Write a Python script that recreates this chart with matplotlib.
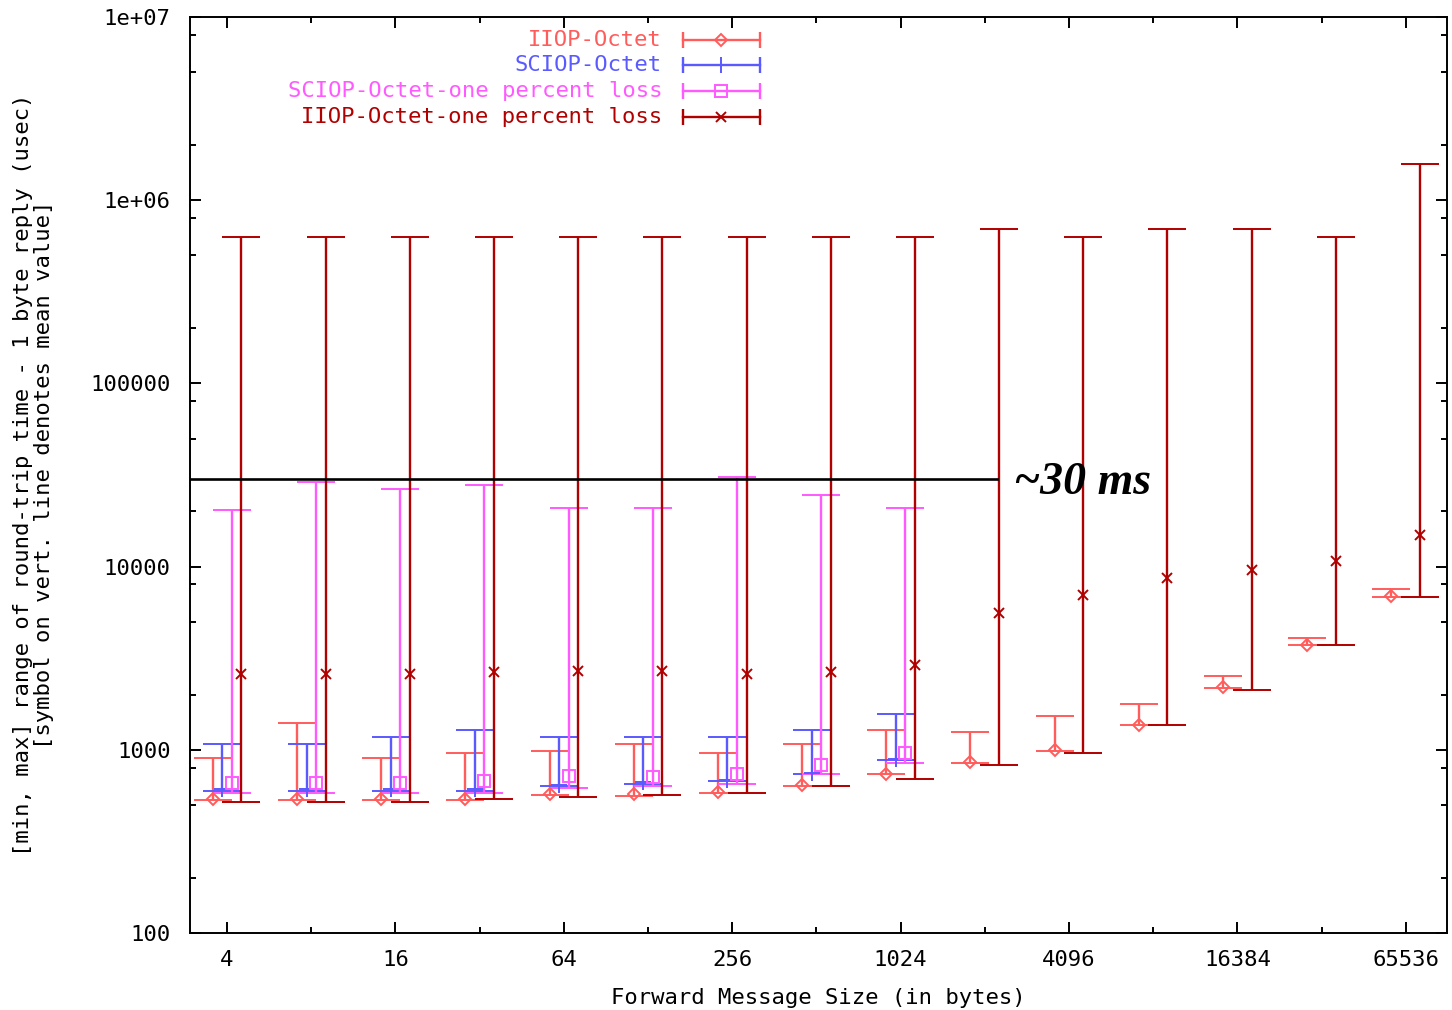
import numpy as np
import matplotlib
matplotlib.use('Agg')
import matplotlib.pyplot as plt
from matplotlib.ticker import FixedLocator, FixedFormatter, NullFormatter


# message sizes (bytes)
sizes = [4, 8, 16, 32, 64, 128, 256, 512, 1024, 2048, 4096, 8192, 16384, 32768, 65536]

# IIOP-Octet
iiop_min = [532, 532, 532, 532, 566, 563, 580, 634, 734, 850, 989, 1359, 2178, 3715, 6840]
iiop_mean = [540, 540, 540, 540, 572, 575, 588, 642, 742, 858, 998, 1370, 2190, 3730, 6880]
iiop_max = [898, 1403, 898, 959, 989, 1080, 959, 1080, 1280, 1250, 1527, 1782, 2535, 4060, 7500]

# SCIOP-Octet (only up to 1024)
sciop_min = [597, 597, 597, 597, 634, 653, 673, 734, 875]
sciop_mean = [608, 608, 608, 608, 645, 665, 685, 748, 890]
sciop_max = [1074, 1074, 1178, 1280, 1178, 1178, 1178, 1280, 1570]

# SCIOP-Octet-one percent loss
sciop_loss_min = [582, 582, 582, 582, 615, 634, 653, 734, 850]
sciop_loss_mean = [656, 656, 656, 674, 721, 711, 737, 826, 963]
sciop_loss_max = [20300, 28800, 26400, 28050, 20900, 20900, 30800, 24600, 20800]

# IIOP-Octet-one percent loss
iiop_loss_min = [517, 517, 517, 536, 552, 566, 580, 634, 692, 828, 959, 1364, 2120, 3715, 6840]
iiop_loss_mean = [2600, 2600, 2600, 2670, 2690, 2690, 2600, 2650, 2900, 5570, 6980, 8650, 9550, 10700, 14800]
iiop_loss_max = [627000, 627000, 627000, 627000, 627000, 627000, 627000, 627000, 627000,
                 693000, 630000, 693000, 693000, 630000, 1580000]

threshold = 30000  # ~30 ms in usec

series = [
    ('IIOP-Octet', iiop_min, iiop_mean, iiop_max, '#ff5c5c', 'D', 6),
    ('SCIOP-Octet', sciop_min, sciop_mean, sciop_max, '#5a5aff', '+', 11),
    ('SCIOP-Octet-one percent loss', sciop_loss_min, sciop_loss_mean, sciop_loss_max, '#ff5aff', 's', 8),
    ('IIOP-Octet-one percent loss', iiop_loss_min, iiop_loss_mean, iiop_loss_max, '#b00000', 'x', 7),
]
offsets = [-0.17, -0.056, 0.056, 0.17]  # in log2 units

mono = 'DejaVu Sans Mono'
fs = 16

fig = plt.figure(figsize=(14.52, 10.10), dpi=100)
ax = fig.add_axes([190 / 1452, 1 - 933 / 1010, 1257 / 1452, 916 / 1010])

for (label, lo, mid, hi, color, marker, ms), off in zip(series, offsets):
    n = len(lo)
    x = [s * 2 ** off for s in sizes[:n]]
    lo = np.array(lo)
    mid = np.array(mid)
    hi = np.array(hi)
    ax.errorbar(x, mid, yerr=[mid - lo, hi - mid], fmt=marker, color=color, ms=ms,
                mfc='none', mew=1.4, elinewidth=1.7, capsize=14, capthick=1.7)

ax.set_xscale('log', base=2)
ax.set_yscale('log')
ax.set_xlim(2 ** 1.56, 2 ** 16.49)
ax.set_ylim(100, 1e7)

# threshold line + note
ax.plot([2 ** 1.56, 2 ** 11.14], [threshold, threshold], color='black', lw=1.9)
ax.text(2 ** 11.35, 2.48e4, '~30 ms', fontsize=33, family='Liberation Serif',
        weight='bold', style='italic', va='baseline', ha='left')

# ticks
xmaj = [4, 16, 64, 256, 1024, 4096, 16384, 65536]
ax.xaxis.set_major_locator(FixedLocator(xmaj))
ax.xaxis.set_major_formatter(FixedFormatter([str(v) for v in xmaj]))
ax.xaxis.set_minor_locator(FixedLocator([8, 32, 128, 512, 2048, 8192, 32768]))
ax.xaxis.set_minor_formatter(NullFormatter())

ymaj = [100, 1000, 10000, 100000, 1e6, 1e7]
ax.yaxis.set_major_locator(FixedLocator(ymaj))
ax.yaxis.set_major_formatter(FixedFormatter(['100', '1000', '10000', '100000', '1e+06', '1e+07']))
ax.yaxis.set_minor_locator(FixedLocator([m * 10 ** d for d in range(2, 7) for m in (2, 5, 8)]))
ax.yaxis.set_minor_formatter(NullFormatter())

ax.tick_params(which='both', direction='in', top=True, right=True, width=1.4,
               labelsize=fs, colors='black')
ax.tick_params(which='major', length=8)
ax.tick_params(which='minor', length=4)
ax.tick_params(axis='y', pad=14)
ax.tick_params(axis='x', pad=12)
for lab in ax.get_xticklabels() + ax.get_yticklabels():
    lab.set_family(mono)
for sp in ax.spines.values():
    sp.set_linewidth(1.4)

ax.set_xlabel('Forward Message Size (in bytes)', fontsize=fs, family=mono)
ax.xaxis.set_label_coords(0.5, -0.06)
ax.set_ylabel('[min, max] range of round-trip time - 1 byte reply (usec)\n'
              '[symbol on vert. line denotes mean value]', fontsize=fs, family=mono,
              linespacing=1.1)
ax.yaxis.set_label_coords(-0.108, 0.5)

# legend drawn gnuplot-style
rows = [0.9749, 0.9476, 0.9192, 0.8908]
for (label, lo, mid, hi, color, marker, ms), yy in zip(series, rows):
    ax.text(0.3755, yy, label, ha='right', va='center', transform=ax.transAxes,
            color=color, fontsize=fs, family=mono)
    ax.plot([0.3922, 0.4535], [yy, yy], color=color, lw=1.7, transform=ax.transAxes, clip_on=False)
    ax.plot([0.3922, 0.4535], [yy, yy], ls='none', marker='|', ms=12, mew=1.7, color=color,
            transform=ax.transAxes, clip_on=False)
    ax.plot([0.4224], [yy], ls='none', marker=marker, ms=ms, mew=1.4, mfc='none', color=color,
            transform=ax.transAxes, clip_on=False)

fig.savefig('out.png', dpi=100)
